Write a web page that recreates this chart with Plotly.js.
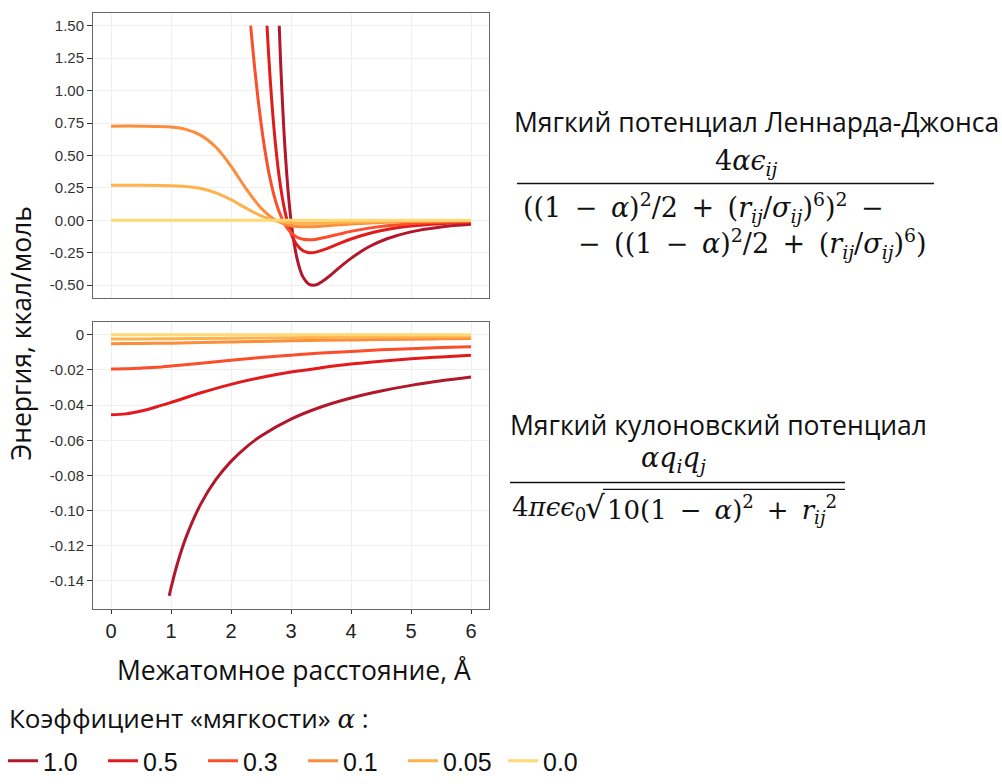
<!DOCTYPE html>
<html><head><meta charset="utf-8">
<script src="https://cdn.plot.ly/plotly-3.0.1.min.js"></script>
<style>html,body{margin:0;padding:0;background:#fff;}#chart{width:1002px;height:784px;}</style>
</head><body><div id="chart"></div>
<script>
// ---- data ----
const alphaLabels = ['1.0','0.5','0.3','0.1','0.05','0.0'];

// Soft Lennard-Jones (top panel)
const ljX_10 = [2.804,2.82,2.85,2.875,2.9,2.95,3.0,3.05,3.1,3.15,3.2,3.3,3.37,3.45,3.6,3.8,4.0,4.3,4.6,5.0,5.5,6.0];
const ljY_10 = [1.50,1.30,0.98,0.75,0.553,0.235,0,-0.171,-0.293,-0.379,-0.436,-0.492,-0.500,-0.491,-0.445,-0.367,-0.293,-0.204,-0.142,-0.089,-0.051,-0.031];
const ljX_05 = [2.60,2.625,2.65,2.7,2.75,2.8,2.85,2.9,2.95,3.0,3.05,3.1,3.2,3.3,3.4,3.6,3.8,4.0,4.3,4.6,5.0,5.5,6.0];
const ljY_05 = [1.50,1.295,1.11,0.798,0.546,0.346,0.189,0.067,-0.027,-0.099,-0.152,-0.190,-0.234,-0.249,-0.247,-0.218,-0.180,-0.144,-0.101,-0.070,-0.044,-0.026,-0.015];
const ljX_03 = [2.328,2.35,2.4,2.45,2.5,2.55,2.6,2.65,2.7,2.75,2.8,2.9,3.0,3.1,3.2,3.3,3.4,3.6,3.8,4.0,4.3,4.6,5.0,5.5,6.0];
const ljY_03 = [1.50,1.387,1.15,0.937,0.750,0.586,0.444,0.324,0.223,0.138,0.069,-0.033,-0.095,-0.130,-0.146,-0.150,-0.147,-0.128,-0.106,-0.085,-0.060,-0.042,-0.026,-0.015,-0.009];
const ljX_low = [0,0.5,1.0,1.25,1.5,1.75,2.0,2.25,2.5,2.75,3.0,3.25,3.5,4.0,4.5,5.0,6.0];
const ljY_01  = [0.726,0.726,0.719,0.701,0.655,0.563,0.418,0.245,0.095,0.000,-0.041,-0.050,-0.045,-0.028,-0.016,-0.009,-0.003];
const ljY_005 = [0.270,0.270,0.267,0.261,0.245,0.212,0.159,0.094,0.035,-0.004,-0.021,-0.025,-0.022,-0.014,-0.008,-0.004,-0.002];
const ljX_00 = [0,3,6];
const ljY_00 = [0,0,0];

// Soft Coulomb (bottom panel)
const cX_10 = [0.97,1.0,1.1,1.25,1.5,1.75,2.0,2.25,2.5,3.0,3.5,4.0,4.5,5.0,5.5,6.0];
const cY_10 = [-0.1485,-0.144,-0.1309,-0.1152,-0.096,-0.0823,-0.072,-0.064,-0.0576,-0.048,-0.0411,-0.036,-0.032,-0.0288,-0.0262,-0.024];
const cX = [0,0.25,0.5,0.75,1,1.5,2,2.5,3,3.5,4,4.5,5,5.5,6];
const cY_05  = [-0.0455,-0.0450,-0.0434,-0.0411,-0.0385,-0.0330,-0.0282,-0.0243,-0.0212,-0.0188,-0.0167,-0.0151,-0.0137,-0.0126,-0.0116];
const cY_03  = [-0.0195,-0.0194,-0.0190,-0.0185,-0.0178,-0.0162,-0.0145,-0.0129,-0.0116,-0.0104,-0.0095,-0.0086,-0.0079,-0.0073,-0.0068];
const cY_01  = [-0.00506,-0.00504,-0.00498,-0.00489,-0.00477,-0.00448,-0.00414,-0.0038,-0.00348,-0.00319,-0.00293,-0.0027,-0.0025,-0.00233,-0.00217];
const cY_005 = [-0.0024,-0.00239,-0.00236,-0.00233,-0.00227,-0.00214,-0.002,-0.00184,-0.0017,-0.00156,-0.00144,-0.00133,-0.00123,-0.00115,-0.00107];
const cY_00  = [0,0,0,0,0,0,0,0,0,0,0,0,0,0,0];

// ticks
const xTicks = [0,1,2,3,4,5,6];
const topYTicks = [-0.5,-0.25,0,0.25,0.5,0.75,1.0,1.25,1.5];
const topYLabels = ['-0.50','-0.25','0.00','0.25','0.50','0.75','1.00','1.25','1.50'];
const botYTicks = [0,-0.02,-0.04,-0.06,-0.08,-0.10,-0.12,-0.14];
const botYLabels = ['0','-0.02','-0.04','-0.06','-0.08','-0.10','-0.12','-0.14'];

// ---- styling ----
const colors = ['#b1182b','#e31a1c','#fc4e2a','#fd8d3c','#feb24c','#fed976'];
const W = 1002, H = 784;
const px = v => v / W;
const py = v => 1 - v / H;

const topSeries = [[ljX_10,ljY_10],[ljX_05,ljY_05],[ljX_03,ljY_03],[ljX_low,ljY_01],[ljX_low,ljY_005],[ljX_00,ljY_00]];
const botSeries = [[cX_10,cY_10],[cX,cY_05],[cX,cY_03],[cX,cY_01],[cX,cY_005],[cX,cY_00]];

const traces = [];
topSeries.forEach((s,i)=>{
  traces.push({x:s[0], y:s[1], xaxis:'x2', yaxis:'y', type:'scatter', mode:'lines',
    name:alphaLabels[i], legendgroup:alphaLabels[i], showlegend:true,
    line:{color:colors[i], width:3, shape:'spline', smoothing:1}});
});
botSeries.forEach((s,i)=>{
  traces.push({x:s[0], y:s[1], xaxis:'x', yaxis:'y2', type:'scatter', mode:'lines',
    name:alphaLabels[i], legendgroup:alphaLabels[i], showlegend:false,
    line:{color:colors[i], width:3, shape:'spline', smoothing:1}});
});

const tickFont = {family:'Liberation Sans, Arial, sans-serif', size:15, color:'#333'};
const gridC = '#efefef';
const frame = {showline:true, mirror:true, linecolor:'#666', linewidth:1, zeroline:false, gridcolor:gridC, gridwidth:1};
const xdom = [px(93), px(489)];

const textFont = {family:'Open Sans, Noto Sans, sans-serif', size:26.5, color:'#111'};
const mathFont = {family:'DejaVu Serif, serif', size:27, color:'#111'};
const mathFont2 = {family:'DejaVu Serif, serif', size:26, color:'#111'};
const S = '\u2002'; // wider math spacing

function ann(x, y, text, font, xa, extra) {
  return Object.assign({xref:'paper', yref:'paper', x:px(x), y:py(y), text:text, showarrow:false,
    xanchor:xa || 'center', yanchor:'middle', font:font}, extra || {});
}

const layout = {
  width:W, height:H, margin:{l:0,r:0,t:0,b:0},
  paper_bgcolor:'#fff', plot_bgcolor:'#fff', showlegend:true,
  xaxis: Object.assign({}, frame, {domain:xdom, anchor:'y2', range:[-0.3,6.3], tickvals:xTicks,
    ticks:'outside', ticklen:4, tickcolor:'#333', tickfont:{family:'Liberation Sans, Arial, sans-serif', size:20, color:'#222'}}),
  xaxis2: Object.assign({}, frame, {domain:xdom, anchor:'y', range:[-0.3,6.3], tickvals:xTicks, showticklabels:false, ticks:''}),
  yaxis: Object.assign({}, frame, {domain:[py(304), py(13)], anchor:'x2', range:[-0.6,1.6], tickvals:topYTicks, ticktext:topYLabels,
    ticks:'outside', ticklen:5, tickcolor:'#333', tickfont:tickFont}),
  yaxis2: Object.assign({}, frame, {domain:[py(621), py(328)], anchor:'x', range:[-0.156,0.0074], tickvals:botYTicks, ticktext:botYLabels,
    ticks:'outside', ticklen:5, tickcolor:'#333', tickfont:tickFont}),
  legend:{orientation:'h', x:px(3), xanchor:'left', y:py(776), yanchor:'middle', bgcolor:'rgba(0,0,0,0)',
    font:{family:'Liberation Sans, Arial, sans-serif', size:25, color:'#111'},
    entrywidth:55, entrywidthmode:'pixels', itemwidth:30, traceorder:'normal'},
  shapes:[
    {type:'line', xref:'paper', yref:'paper', x0:px(517), x1:px(934), y0:py(187), y1:py(187), line:{color:'#111', width:1.5}},
    {type:'line', xref:'paper', yref:'paper', x0:px(510), x1:px(845), y0:py(492), y1:py(492), line:{color:'#111', width:1.5}},
    {type:'line', xref:'paper', yref:'paper', x0:px(603), x1:px(845), y0:py(499), y1:py(499), line:{color:'#111', width:1.2}}
  ],
  annotations:[
    ann(21, 340, 'Энергия, ккал/моль', textFont, 'center', {textangle:-90}),
    ann(294, 683, 'Межатомное расстояние, Å', textFont),
    ann(7, 732, 'Коэффициент «мягкости» <span style="font-family:DejaVu Serif;font-style:italic">α</span> :', Object.assign({}, textFont, {size:26}), 'left'),
    ann(512, 124, 'Мягкий потенциал Леннарда-Джонса', textFont, 'left'),
    ann(746, 166, '4<i>αϵ</i><sub><i>ij</i></sub>', mathFont),
    ann(521, 212, '((1'+S+'−'+S+'<i>α</i>)<sup>2</sup>/2'+S+'+'+S+'(<i>r</i><sub><i>ij</i></sub>/<i>σ</i><sub><i>ij</i></sub>)<sup>6</sup>)<sup>2</sup>'+S+'−', mathFont, 'left'),
    ann(576, 248, '−'+S+'((1'+S+'−'+S+'<i>α</i>)<sup>2</sup>/2'+S+'+'+S+'(<i>r</i><sub><i>ij</i></sub>/<i>σ</i><sub><i>ij</i></sub>)<sup>6</sup>)', mathFont, 'left'),
    ann(508, 433, 'Мягкий кулоновский потенциал', textFont, 'left'),
    ann(673, 468, '<i>αq</i><sub><i>i</i></sub><i>q</i><sub><i>j</i></sub>', mathFont),
    ann(510, 518, '4<i>πϵϵ</i><sub>0</sub>', mathFont2, 'left'),
    ann(595, 517, '√', Object.assign({}, mathFont2, {size:31}), 'center'),
    ann(605, 519, '10(1'+S+'−'+S+'<i>α</i>)<sup>2</sup>'+S+'+'+S+'<i>r</i><sub><i>ij</i></sub><sup>2</sup>', mathFont2, 'left')
  ]
};

Plotly.newPlot('chart', traces, layout, {staticPlot:true, displayModeBar:false});
</script></body></html>
